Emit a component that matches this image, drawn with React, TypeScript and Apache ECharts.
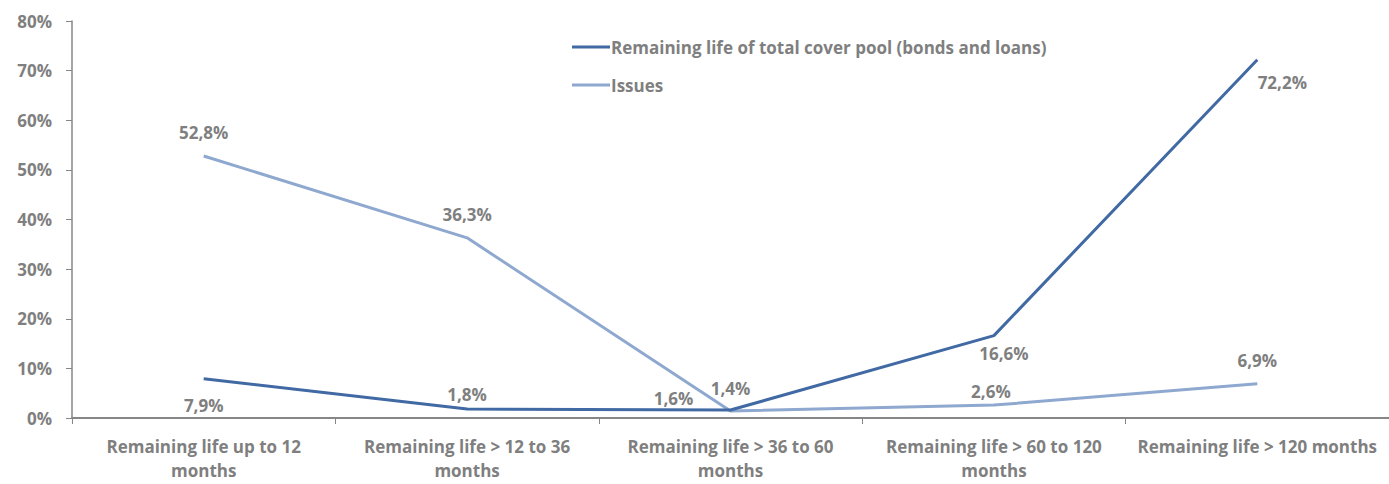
import React, { useEffect, useRef } from "react";
import * as echarts from "echarts";

const categories = [
  "Remaining life up to 12\nmonths",
  "Remaining life > 12 to 36\nmonths",
  "Remaining life > 36 to 60\nmonths",
  "Remaining life > 60 to 120\nmonths",
  "Remaining life > 120 months",
];
const coverPoolName = "Remaining life of total cover pool (bonds and loans)";
const coverPool = [7.9, 1.8, 1.6, 16.6, 72.2];
const issuesName = "Issues";
const issues = [52.8, 36.3, 1.4, 2.6, 6.9];
const yTicks = [0, 10, 20, 30, 40, 50, 60, 70, 80];

// label placements (style only)
const coverLabelPos: [string, number[]][] = [
  ["bottom", [0, 4]],
  ["top", [0, 8]],
  ["top", [-57, 11]],
  ["bottom", [10, -5]],
  ["bottom", [25, 0]],
];
const issuesLabelPos: [string, number[]][] = [
  ["top", [0, 0]],
  ["top", [0, 0]],
  ["top", [0, 0]],
  ["top", [-3, 9]],
  ["top", [0, 0]],
];

const FONT = "Open Sans";
const GRAY = "#7f7f7f";
const fmt = (v: number) => v.toFixed(1).replace(".", ",") + "%";

export default function App() {
  const ref = useRef<HTMLDivElement>(null);
  useEffect(() => {
    const chart = echarts.init(ref.current!, null, { renderer: "svg" });
    const labelStyle = {
      show: true,
      color: GRAY,
      fontFamily: FONT,
      fontWeight: "bold",
      fontSize: 17,
      lineHeight: 20,
      formatter: (p: any) => fmt(p.value),
    };
    const mk = (vals: number[], pos: [string, number[]][]) =>
      vals.map((v, i) => ({
        value: v,
        label: { ...labelStyle, position: pos[i][0], offset: pos[i][1], distance: 13 },
      }));
    chart.setOption({
      animation: false,
      grid: { left: 72, top: 21, width: 1320, bottom: 66 },
      legend: {
        orient: "vertical",
        left: 572,
        top: 37,
        padding: 0,
        itemGap: 18,
        itemWidth: 38,
        itemHeight: 3,
        icon: "rect",
        textStyle: {
          color: GRAY,
          fontFamily: FONT,
          fontWeight: "bold",
          fontSize: 17,
          lineHeight: 20,
          padding: [0, 0, 0, -4],
        },
        data: [coverPoolName, issuesName],
      },
      xAxis: {
        type: "category",
        data: categories,
        boundaryGap: true,
        axisLine: { lineStyle: { color: "#868686", width: 2 } },
        axisTick: { show: true, length: 6, lineStyle: { color: "#868686", width: 1 } },
        axisLabel: {
          interval: 0,
          margin: 16,
          color: GRAY,
          fontFamily: FONT,
          fontWeight: "bold",
          fontSize: 17,
          lineHeight: 24,
          align: "center",
        },
      },
      yAxis: {
        type: "value",
        min: 0,
        max: 80,
        interval: 10,
        axisLine: { show: true, lineStyle: { color: "#868686", width: 1.5 } },
        axisTick: { show: true, length: 6, lineStyle: { color: "#868686" } },
        splitLine: { show: false },
        axisLabel: {
          margin: 20,
          color: GRAY,
          fontFamily: FONT,
          fontWeight: "bold",
          fontSize: 17,
          formatter: (v: number) => (yTicks.includes(v) ? v + "%" : ""),
        },
      },
      series: [
        {
          name: issuesName,
          type: "line",
          data: mk(issues, issuesLabelPos),
          showSymbol: true,
          symbol: "circle",
          symbolSize: 0.1,
          lineStyle: { color: "#8EA8CF", width: 3 },
          itemStyle: { color: "#8EA8CF" },
          z: 2,
        },
        {
          name: coverPoolName,
          type: "line",
          data: mk(coverPool, coverLabelPos),
          showSymbol: true,
          symbol: "circle",
          symbolSize: 0.1,
          lineStyle: { color: "#4169A3", width: 3 },
          itemStyle: { color: "#4169A3" },
          z: 3,
        },
      ],
    });
    return () => chart.dispose();
  }, []);
  return (
    <div
      ref={ref}
      style={{ position: "absolute", left: 0, top: 0, width: 1389, height: 484, background: "#fff" }}
    />
  );
}
